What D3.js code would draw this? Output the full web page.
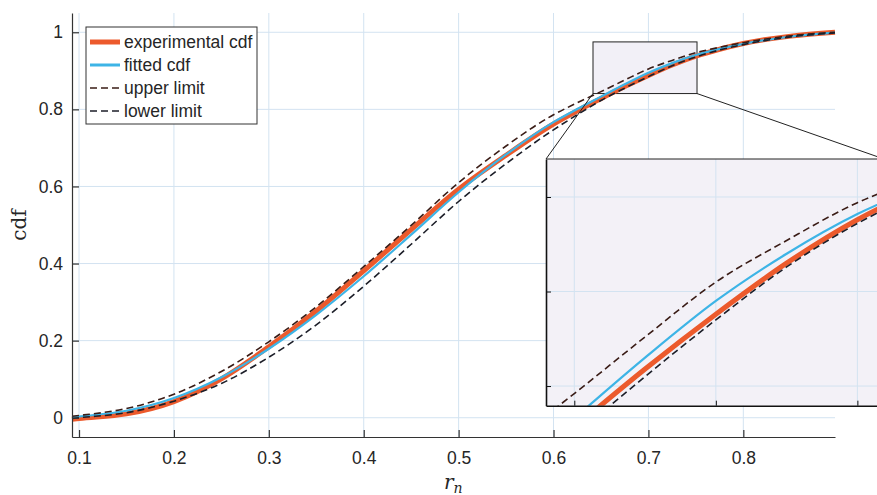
<!DOCTYPE html>
<html>
<head>
<meta charset="utf-8">
<script src="https://cdn.jsdelivr.net/npm/d3@7"></script>
<style>
  body { margin: 0; background: #fff; }
  svg text { font-family: "Liberation Sans", Arial, sans-serif; fill: #262626; }
</style>
</head>
<body>
<svg id="chart" width="877" height="495"></svg>
<script>
// values
const rn = [0.0926, 0.1, 0.15, 0.2, 0.25, 0.3, 0.35, 0.4, 0.45, 0.5, 0.55, 0.6, 0.625, 0.65, 0.675, 0.7, 0.725, 0.75, 0.775, 0.8, 0.85, 0.8966];
const experimentalCdf = [-0.004, -0.002, 0.010, 0.042, 0.101, 0.184, 0.277, 0.381, 0.488, 0.593, 0.681, 0.762, 0.796, 0.828, 0.859, 0.888, 0.915, 0.938, 0.956, 0.971, 0.990, 1.000];
const fittedCdf = [0.001, 0.003, 0.018, 0.051, 0.105, 0.179, 0.267, 0.367, 0.475, 0.585, 0.683, 0.767, 0.801, 0.833, 0.865, 0.895, 0.920, 0.941, 0.957, 0.970, 0.989, 0.999];
const upperLimit = [0.004, 0.006, 0.024, 0.061, 0.120, 0.197, 0.288, 0.392, 0.499, 0.610, 0.705, 0.786, 0.817, 0.846, 0.876, 0.905, 0.927, 0.947, 0.961, 0.973, 0.991, 1.000];
const lowerLimit = [-0.002, 0.000, 0.013, 0.043, 0.089, 0.157, 0.241, 0.341, 0.450, 0.561, 0.659, 0.747, 0.786, 0.823, 0.855, 0.885, 0.913, 0.936, 0.954, 0.968, 0.988, 0.998];

const xTicks = [0.1, 0.2, 0.3, 0.4, 0.5, 0.6, 0.7, 0.8];
const yTicks = [0, 0.2, 0.4, 0.6, 0.8, 1];
const insetXTicks = [0.65, 0.7, 0.75];
const insetYTicks = [0.85, 0.9, 0.95];
// zoomed region marked on the main axes: [x0, x1, y0, y1]
const zoomBox = [0.6416, 0.7512, 0.841, 0.975];
const insetXDomain = [0.64, 0.7594];
const insetYDomain = [0.8396, 0.9701];

const gridColor = "#d3e3f1";
const axisColor = "#333";

const series = [
    { name: "experimental cdf", values: experimentalCdf, color: "#ec5a2c", width: 5, legendWidth: 5, dash: null },
    { name: "fitted cdf", values: fittedCdf, color: "#3db4e6", width: 2.2, legendWidth: 3, dash: null },
    { name: "upper limit", values: upperLimit, color: "#3a1c16", width: 1.6, legendWidth: 1.5, dash: "7,4" },
    { name: "lower limit", values: lowerLimit, color: "#1c1e28", width: 1.6, legendWidth: 1.5, dash: "7,4" }
];

const svg = d3.select("#chart");

// main axes
const x = d3.scaleLinear().domain([0.0926, 0.8966]).range([72, 835]);
const y = d3.scaleLinear().domain([-0.05, 1.05]).range([437, 13]);

const main = svg.append("g");

// grid
main.append("g").selectAll("line").data(xTicks).join("line")
    .attr("x1", (d) => x(d)).attr("x2", (d) => x(d))
    .attr("y1", y.range()[0]).attr("y2", y.range()[1])
    .attr("stroke", gridColor).attr("stroke-width", 1);
main.append("g").selectAll("line").data(yTicks).join("line")
    .attr("y1", (d) => y(d)).attr("y2", (d) => y(d))
    .attr("x1", x.range()[0]).attr("x2", x.range()[1])
    .attr("stroke", gridColor).attr("stroke-width", 1);

// zoom rectangle drawn under the curves
main.append("rect")
    .attr("x", x(zoomBox[0])).attr("y", y(zoomBox[3]))
    .attr("width", x(zoomBox[1]) - x(zoomBox[0]))
    .attr("height", y(zoomBox[2]) - y(zoomBox[3]))
    .attr("fill", "#f2f0f7").attr("stroke", "#222").attr("stroke-width", 1);

function drawCurves(g, sx, sy) {
    const line = d3.line()
        .x((d, i) => sx(rn[i]))
        .y((d) => sy(d))
        .curve(d3.curveMonotoneX);
    g.selectAll("path.curve").data(series).join("path")
        .attr("class", "curve")
        .attr("d", (s) => line(s.values))
        .attr("fill", "none")
        .attr("stroke", (s) => s.color)
        .attr("stroke-width", (s) => s.width)
        .attr("stroke-dasharray", (s) => s.dash)
        .attr("stroke-linejoin", "round");
}

drawCurves(main.append("g"), x, y);

// axes (ticks point inward)
const xAxis = main.append("g").attr("transform", `translate(0,${y.range()[0]})`)
    .call(d3.axisBottom(x).tickValues(xTicks).tickSizeInner(-7).tickSizeOuter(0).tickPadding(15).tickFormat(d3.format("")));
const yAxis = main.append("g").attr("transform", `translate(${x.range()[0]},0)`)
    .call(d3.axisLeft(y).tickValues(yTicks).tickSizeInner(-7).tickSizeOuter(0).tickPadding(9).tickFormat(d3.format("")));
[xAxis, yAxis].forEach((a) => {
    a.select(".domain").attr("stroke", axisColor).attr("stroke-width", 1.2);
    a.selectAll(".tick line").attr("stroke", axisColor).attr("stroke-width", 1.2);
    a.selectAll(".tick text").attr("font-size", 17.5).attr("fill", "#262626");
});

// axis labels
svg.append("text")
    .attr("transform", "translate(26,225) rotate(-90)")
    .attr("text-anchor", "middle")
    .style("font-family", "'DejaVu Serif', 'Liberation Serif', serif")
    .attr("font-size", 20)
    .text("cdf");
const xl = svg.append("text")
    .attr("x", 444).attr("y", 489)
    .style("font-family", "'DejaVu Serif', 'Liberation Serif', serif")
    .attr("font-style", "italic")
    .attr("font-size", 20);
xl.append("tspan").text("r");
xl.append("tspan").attr("font-size", 14).attr("dy", 4).text("n");

// inset
const inset = { left: 546, top: 159, width: 338, height: 246.7 };
const ix = d3.scaleLinear().domain(insetXDomain).range([inset.left, inset.left + inset.width]);
const iy = d3.scaleLinear().domain(insetYDomain).range([inset.top + inset.height, inset.top]);

// connector lines from the zoom rectangle to the inset
svg.append("g").selectAll("line")
    .data([[zoomBox[0], inset.left], [zoomBox[1], inset.left + inset.width]])
    .join("line")
    .attr("x1", (d) => x(d[0])).attr("y1", y(zoomBox[2]))
    .attr("x2", (d) => d[1]).attr("y2", inset.top)
    .attr("stroke", "#222").attr("stroke-width", 1);

const ig = svg.append("g");
svg.append("clipPath").attr("id", "inset-clip").append("rect")
    .attr("x", inset.left).attr("y", inset.top)
    .attr("width", inset.width).attr("height", inset.height);

ig.append("rect")
    .attr("x", inset.left).attr("y", inset.top)
    .attr("width", inset.width).attr("height", inset.height)
    .attr("fill", "#f3f1f7");

ig.append("g").selectAll("line").data(insetXTicks).join("line")
    .attr("x1", (d) => ix(d)).attr("x2", (d) => ix(d))
    .attr("y1", inset.top).attr("y2", inset.top + inset.height)
    .attr("stroke", gridColor).attr("stroke-width", 1);
ig.append("g").selectAll("line").data(insetYTicks).join("line")
    .attr("y1", (d) => iy(d)).attr("y2", (d) => iy(d))
    .attr("x1", inset.left).attr("x2", inset.left + inset.width)
    .attr("stroke", gridColor).attr("stroke-width", 1);

drawCurves(ig.append("g").attr("clip-path", "url(#inset-clip)"), ix, iy);

const ixAxis = ig.append("g").attr("transform", `translate(0,${inset.top + inset.height})`)
    .call(d3.axisBottom(ix).tickValues(insetXTicks).tickSizeInner(-5).tickSizeOuter(0).tickFormat(""));
const iyAxis = ig.append("g").attr("transform", `translate(${inset.left},0)`)
    .call(d3.axisLeft(iy).tickValues(insetYTicks).tickSizeInner(-5).tickSizeOuter(0).tickFormat(""));
[ixAxis, iyAxis].forEach((a) => {
    a.select(".domain").attr("stroke", "#111").attr("stroke-width", 1.6);
    a.selectAll(".tick line").attr("stroke", "#111").attr("stroke-width", 1);
});
ig.append("line")
    .attr("x1", inset.left).attr("x2", inset.left + inset.width)
    .attr("y1", inset.top).attr("y2", inset.top)
    .attr("stroke", "#222").attr("stroke-width", 1);

// legend
const legend = svg.append("g").attr("transform", "translate(86,27)");
legend.append("rect")
    .attr("width", 171).attr("height", 97)
    .attr("fill", "#fff").attr("stroke", "#333").attr("stroke-width", 1);
const entry = legend.selectAll("g.entry").data(series).join("g")
    .attr("class", "entry")
    .attr("transform", (d, i) => `translate(0,${15 + i * 23})`);
entry.append("line")
    .attr("x1", 4).attr("x2", 34)
    .attr("stroke", (d) => d.color)
    .attr("stroke-width", (d) => d.legendWidth)
    .attr("stroke-dasharray", (d) => d.dash);
entry.append("text")
    .attr("x", 38).attr("dy", "0.35em")
    .attr("font-size", 17.5)
    .text((d) => d.name);
</script>
</body>
</html>
